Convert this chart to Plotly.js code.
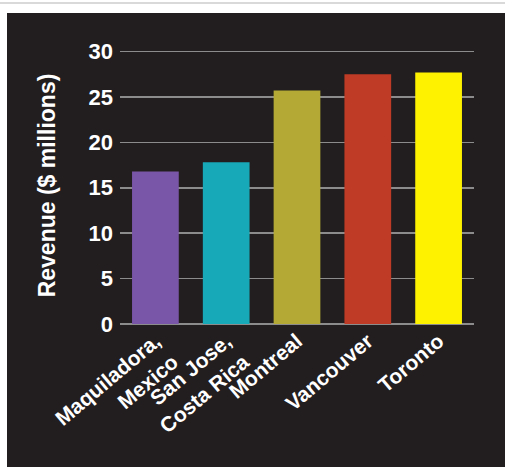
<!DOCTYPE html>
<html>
<head>
<meta charset="utf-8">
<script src="https://cdn.plot.ly/plotly-3.0.1.min.js"></script>
<style>
  html, body { margin: 0; padding: 0; background: #ffffff; width: 505px; height: 467px; overflow: hidden; }
  #topline { position: absolute; left: 0; top: 2px; width: 505px; height: 2px; background: #d9d9d9; }
  #chart { position: absolute; left: 7px; top: 13px; width: 498px; height: 454px; }
</style>
</head>
<body>
<div id="topline"></div>
<div id="chart"></div>
<script>
const categories = ["Maquiladora,<br>Mexico", "San Jose,<br>Costa Rica", "Montreal", "Vancouver", "Toronto"];
const revenue = [16.8, 17.8, 25.7, 27.5, 27.7];
const barColors = ["#7a56a8", "#17a9b7", "#b4a935", "#bf3b26", "#fff200"];
const yTicks = [0, 5, 10, 15, 20, 25, 30];

const trace = {
  type: "bar",
  x: categories,
  y: revenue,
  marker: { color: barColors, line: { width: 0 } },
  width: 0.66,
  hoverinfo: "none"
};

const fontFam = "Liberation Sans, Arial, sans-serif";

const layout = {
  width: 498,
  height: 454,
  paper_bgcolor: "#221e1f",
  plot_bgcolor: "#221e1f",
  margin: { l: 113, r: 31, t: 34, b: 143 },
  showlegend: false,
  bargap: 0.34,
  xaxis: {
    type: "category",
    tickangle: -40,
    tickfont: { family: fontFam, size: 21, color: "#ffffff", weight: 700 },
    showgrid: false,
    zeroline: false,
    showline: false,
    ticks: "",
    fixedrange: true
  },
  yaxis: {
    range: [0, 30.5],
    tickvals: yTicks,
    ticktext: yTicks.map(String),
    tickfont: { family: fontFam, size: 22, color: "#ffffff", weight: 700 },
    ticklabelstandoff: 6,
    showgrid: true,
    gridcolor: "#8c8c8c",
    gridwidth: 1.5,
    zeroline: true,
    zerolinecolor: "#8c8c8c",
    zerolinewidth: 1.5,
    showline: false,
    ticks: "",
    fixedrange: true,
    title: {
      text: "Revenue ($ millions)",
      font: { family: fontFam, size: 23, color: "#ffffff", weight: 700 },
      standoff: 26
    }
  }
};

Plotly.newPlot("chart", [trace], layout, { displayModeBar: false, staticPlot: true });
</script>
</body>
</html>
